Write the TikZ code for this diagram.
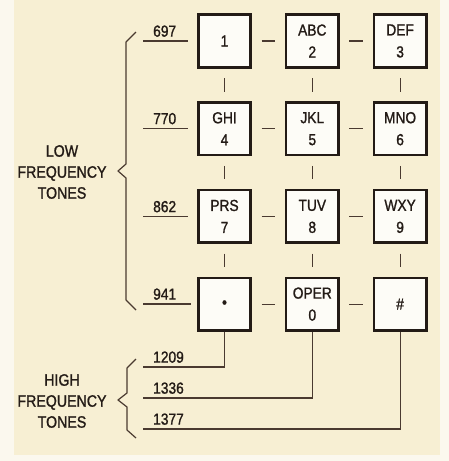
\documentclass[tikz,border=0pt]{standalone}
\usepackage{fontspec}
\setmainfont{Liberation Sans}
\newfontfamily\platefont[FakeStretch=0.86,FakeBold=1.2]{Liberation Sans}
\usetikzlibrary{positioning}
\definecolor{paper}{HTML}{F7EFD3}
\definecolor{rim}{HTML}{FBF8EE}
\definecolor{ink}{HTML}{231B16}
\definecolor{wire}{HTML}{4A3A30}
\definecolor{keyface}{HTML}{FDFCF7}
\tikzset{
  % keys of the pad, and the short ticks between them
  keybox/.style   = {draw=ink, line width=2.6pt, fill=keyface, minimum size=52.5pt,
                     inner sep=0pt, align=center, text=ink,
                     font=\platefont\fontsize{16}{22}\selectfont},
  padtick/.style  = {wire, line width=1.1pt, shorten <=9.6pt, shorten >=9.6pt},
  wireline/.style = {wire, line width=1.2pt},
  bracket/.style  = {wire, line width=1.2pt, line join=round},
  freq/.style     = {text=ink, inner sep=1pt, font=\platefont\fontsize{16}{20}\selectfont},
  group/.style    = {text=ink, align=center, font=\platefont\fontsize{16.5}{21}\selectfont},
}

\begin{document}
\begin{tikzpicture}[x=1pt,y=-1pt]
  \useasboundingbox (0,0) rectangle (449,461);
  % paper
  \fill[rim] (0,0) rectangle (449,461);
  \fill[paper] (14,0) rectangle (440,455);
  % the twelve keys
  \foreach \name/\txt [count=\i from 0] in {k1/1, k2/{ABC\\2}, k3/{DEF\\3},
      k4/{GHI\\4}, k5/{JKL\\5}, k6/{MNO\\6}, k7/{PRS\\7}, k8/{TUV\\8},
      k9/{WXY\\9}, kstar/{\textbullet}, k0/{OPER\\0}, khash/\#}
  {
    \pgfmathsetmacro\cx{224.5+87.8*mod(\i,3)}
    \pgfmathsetmacro\cy{41+87.7*int(\i/3)}
    \node[keybox] (\name) at (\cx,\cy) {\txt};
  }
  % ticks between neighbouring keys
  \foreach \a/\b in {k1/k2, k2/k3, k4/k5, k5/k6, k7/k8, k8/k9, kstar/k0, k0/khash,
      k1/k4, k4/k7, k7/kstar, k2/k5, k5/k8, k8/k0, k3/k6, k6/k9, k9/khash}
    \draw[padtick] (\a) -- (\b);
  % low frequency rows
  \foreach \f/\y/\len in {697/41/45, 770/128.5/45, 862/216.5/45, 941/304/48} {
    \coordinate (lo\f) at (143,\y);
    \coordinate (loend\f) at (143+\len,\y);
    \draw[wireline] (lo\f) -- (loend\f);
    \node[freq, above right=3pt and 9pt] (lbl\f) at (lo\f) {\f};
  }
  % high frequency columns
  \foreach \f/\y/\k in {1209/367/kstar, 1336/398/k0, 1377/429/khash} {
    \coordinate (hi\f) at (143,\y);
    \draw[wireline] (hi\f) -| (\k.south);
    \node[freq, above right=3pt and 9pt] (lbl\f) at (hi\f) {\f};
  }
  % brackets
  \draw[bracket] (136,32) -- (126,42) -- (126,164) -- (118,171) -- (126,178)
    -- (126,300) -- (136,310);
  \draw[bracket] (136,359) -- (127,368) -- (127,393) -- (118,400) -- (127,407)
    -- (127,430) -- (136,438);
  \node[group] (lowtones) at (62,172) {LOW\\FREQUENCY\\TONES};
  \node[group] (hightones) at (62,401) {HIGH\\FREQUENCY\\TONES};
\end{tikzpicture}
\end{document}
